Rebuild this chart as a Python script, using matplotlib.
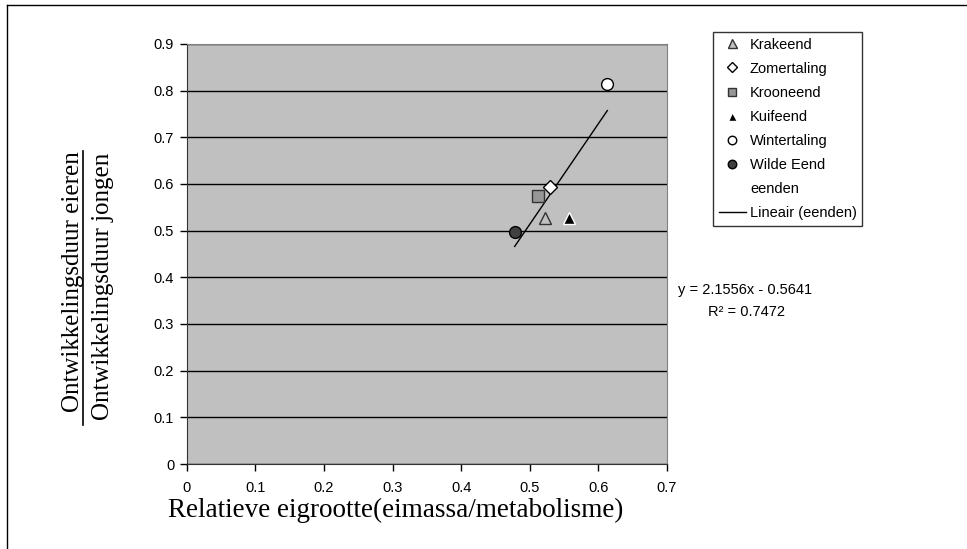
import matplotlib
matplotlib.use('Agg')
import matplotlib.pyplot as plt
from matplotlib.lines import Line2D
import numpy as np

# species and values
species = ['Krakeend', 'Zomertaling', 'Krooneend', 'Kuifeend', 'Wintertaling', 'Wilde Eend']
egg_size = [0.5215, 0.530, 0.512, 0.5565, 0.613, 0.478]
dev_ratio = [0.528, 0.593, 0.575, 0.528, 0.815, 0.498]

# linear trendline as printed on the chart
slope = 2.1556
intercept = -0.5641
r_squared = 0.7472

# marker styles per species (Excel look)
styles = {
    'Krakeend': dict(marker='^', facecolor='#C0C0C0', edgecolor='#333333'),
    'Zomertaling': dict(marker='D', facecolor='white', edgecolor='black'),
    'Krooneend': dict(marker='s', facecolor='#969696', edgecolor='#333333'),
    'Kuifeend': dict(marker='^', facecolor='black', edgecolor='white'),
    'Wintertaling': dict(marker='o', facecolor='white', edgecolor='black'),
    'Wilde Eend': dict(marker='o', facecolor='#404040', edgecolor='black'),
}
sizes = {'^': 9, 'D': 7, 's': 8, 'o': 8.5}

W, H = 967, 549


def fx(px):
    return px / W


def fy(py):
    return 1 - py / H


plt.rcParams['font.family'] = ['Liberation Sans', 'DejaVu Sans']

fig = plt.figure(figsize=(W / 100, H / 100), dpi=100)
ax = fig.add_axes([fx(186.7), fy(464), fx(667) - fx(186.7), fy(44) - fy(464)])
ax.set_facecolor('#C0C0C0')

# outer chart border (only left/top visible in the crop)
fig.add_artist(Line2D([fx(7), fx(7)], [fy(5), 0], color='black', lw=1.0))
fig.add_artist(Line2D([fx(7), 1], [fy(5), fy(5)], color='black', lw=1.0))

for name, x, y in zip(species, egg_size, dev_ratio):
    st = styles[name]
    ax.plot([x], [y], linestyle='none', marker=st['marker'], markersize=sizes[st['marker']],
            markerfacecolor=st['facecolor'], markeredgecolor=st['edgecolor'],
            markeredgewidth=1.0, label=name, zorder=4)

# combined series used for the trendline, no marker
ax.plot([], [], linestyle='none', marker='None', label='eenden')

xs = np.array([min(egg_size), max(egg_size)])
ax.plot(xs, slope * xs + intercept, color='black', lw=1.0, label='Lineair (eenden)', zorder=3)

ax.set_xlim(0, 0.7)
ax.set_ylim(0, 0.9)
ax.set_xticks(np.arange(0, 0.71, 0.1))
ax.set_yticks(np.arange(0, 0.91, 0.1))
ax.set_xticklabels(['0', '0.1', '0.2', '0.3', '0.4', '0.5', '0.6', '0.7'])
ax.set_yticklabels(['0', '0.1', '0.2', '0.3', '0.4', '0.5', '0.6', '0.7', '0.8', '0.9'])
ax.tick_params(axis='both', labelsize=10.5, direction='out', length=5, width=1,
               color='black', pad=4)
ax.tick_params(axis='x', pad=7)
ax.yaxis.grid(True, color='black', linewidth=1.0)
ax.set_axisbelow(True)
for side in ['top', 'right']:
    ax.spines[side].set_color('#808080')
ax.spines['left'].set_color('#333333')
ax.spines['bottom'].set_color('#333333')

# legend
leg = ax.legend(loc='upper left', bbox_to_anchor=(fx(713), fy(32)), bbox_transform=fig.transFigure,
                fontsize=10.5, frameon=True, fancybox=False, edgecolor='black',
                markerscale=0.72, handlelength=1.85, handletextpad=0.3,
                labelspacing=0.69, borderpad=0.38, borderaxespad=0)
leg.get_frame().set_linewidth(1.0)

# trendline equation
fig.text(fx(678), fy(290), 'y = %.4fx - %.4f' % (slope, -intercept), fontsize=10.5,
         ha='left', va='center')
fig.text(fx(708), fy(312), 'R\u00b2 = %.4f' % r_squared, fontsize=10.5, ha='left', va='center')

# axis titles in serif, y title as a fraction
serif = ['Liberation Serif', 'DejaVu Serif']
fig.text(fx(168), fy(510), 'Relatieve eigrootte(eimassa/metabolisme)', family=serif,
         fontsize=19.5, ha='left', va='center')
fig.text(fx(73), fy(282), 'Ontwikkelingsduur eieren', family=serif, fontsize=18,
         rotation=90, ha='center', va='center')
fig.text(fx(103), fy(286), 'Ontwikkelingsduur jongen', family=serif, fontsize=18,
         rotation=90, ha='center', va='center')
fig.add_artist(Line2D([fx(83), fx(83)], [fy(151), fy(425)], color='black', lw=1.2))

fig.savefig('out.png', dpi=100)
